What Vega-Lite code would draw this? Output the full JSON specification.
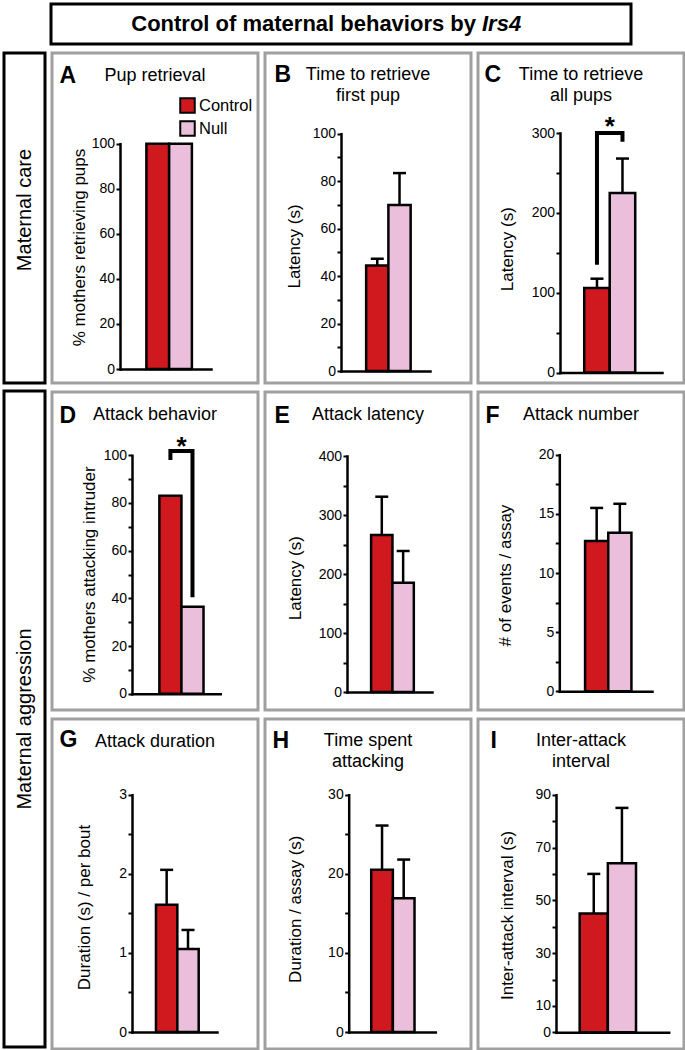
{
"$schema": "https://vega.github.io/schema/vega-lite/v6.json",
"padding": {"left": 2, "top": 2, "right": 0, "bottom": 0},
"background": "white",
"spacing": 5,
"resolve": {"scale": {"fill": "independent"}, "legend": {"fill": "independent"}},
"vconcat": [
 {"hconcat": [
   {"width": 41, "height": 40, "data": {"values": [{"t": ""}]}, "mark": {"type": "text"}, "encoding": {"text": {"field": "t"}}},
   {"width": 580, "height": 40, "view": {"stroke": "black", "strokeWidth": 3},
    "data": {"values": [{"a": "Control of maternal behaviors by", "b": "Irs4"}]},
    "layer": [
     {"mark": {"type": "text", "align": "right", "baseline": "middle", "dx": 135, "fontSize": 22, "fontWeight": "bold"}, "encoding": {"text": {"field": "a"}}},
     {"mark": {"type": "text", "align": "left", "baseline": "middle", "dx": 141, "fontSize": 22, "fontWeight": "bold", "fontStyle": "italic"}, "encoding": {"text": {"field": "b"}}}
    ]}
  ], "spacing": 6, "bounds": "flush"},
 {"hconcat": [
   {"vconcat": [
     {"width": 41, "height": 330, "view": {"stroke": "black", "strokeWidth": 3}, "data": {"values": [{"t": "Maternal care"}]}, "mark": {"type": "text", "angle": 270, "fontSize": 20, "baseline": "middle", "dx": 8}, "encoding": {"text": {"field": "t"}}},
     {"width": 41, "height": 656, "view": {"stroke": "black", "strokeWidth": 3}, "data": {"values": [{"t": "Maternal aggression"}]}, "mark": {"type": "text", "angle": 270, "fontSize": 20, "baseline": "middle"}, "encoding": {"text": {"field": "t"}}}
   ], "spacing": 8, "bounds": "flush"},
   {"vconcat": [
     {"hconcat": [
       {"width": 206, "height": 330, "view": {"stroke": "#a0a0a0", "strokeWidth": 3},
        "title": {"text": "Pup retrieval"},
        "data": {"values": [{"group": "Control", "mean": 100}, {"group": "Null", "mean": 100}]},
        "encoding": {
          "x": {"field": "group", "type": "nominal", "sort": null, "scale": {"domain": ["Control", "Null"], "range": [68, 159], "paddingInner": 0, "paddingOuter": 1.22, "align": 0.58}, "axis": {"offset": -14, "title": "A", "titleX": 7, "titleY": -294}},
          "y": {"field": "mean", "type": "quantitative", "scale": {"domain": [0, 100], "range": [316, 90.7], "nice": false, "zero": false}, "axis": {"offset": -68, "values": [0, 20, 40, 60, 80, 100], "title": "% mothers retrieving pups", "titleX": -41, "titleY": 194}}
        },
        "layer": [
          {"mark": {"type": "bar", "stroke": "black", "strokeWidth": 2.5}, "encoding": {"fill": {"field": "group", "type": "nominal", "scale": {"domain": ["Control", "Null"], "range": ["#d0191f", "#ebbfdb"]}, "legend": {"orient": "none", "legendX": 127, "legendY": 44, "title": null, "symbolType": "square", "symbolSize": 210, "symbolStrokeColor": "black", "symbolStrokeWidth": 2, "symbolOpacity": 1, "labelFontSize": 16.5, "labelColor": "black", "labelOffset": 3, "rowPadding": 0, "padding": 0}}}}
        ]},
       {"width": 206, "height": 330, "view": {"stroke": "#a0a0a0", "strokeWidth": 3},
        "title": {"text": ["Time to retrieve", "first pup"], "dy": 56},
        "data": {"values": [{"group": "Control", "mean": 44.5, "upper": 47.3}, {"group": "Null", "mean": 70, "upper": 83.4}]},
        "encoding": {
          "x": {"field": "group", "type": "nominal", "sort": null, "scale": {"domain": ["Control", "Null"], "range": [76, 165], "paddingInner": 0, "paddingOuter": 1.07, "align": 0.565}, "axis": {"offset": -12, "title": "B", "titleX": 9, "titleY": -297}},
          "y": {"field": "mean", "type": "quantitative", "scale": {"domain": [0, 100], "range": [318, 80.7], "nice": false, "zero": false}, "axis": {"offset": -76, "values": [0, 10, 20, 30, 40, 50, 60, 70, 80, 90, 100], "labelExpr": "datum.value % 20 === 0 ? datum.label : ''", "title": "Latency (s)", "titleX": -47, "titleY": 193}}
        },
        "layer": [
          {"mark": {"type": "bar", "stroke": "black", "strokeWidth": 2.5}, "encoding": {"fill": {"field": "group", "type": "nominal", "scale": {"domain": ["Control", "Null"], "range": ["#d0191f", "#ebbfdb"]}, "legend": null}}},
          {"mark": {"type": "rule", "color": "black", "strokeWidth": 2.5}, "encoding": {"y2": {"field": "upper"}}},
          {"mark": {"type": "tick", "color": "black", "thickness": 2.5, "size": 13, "opacity": 1}, "encoding": {"y": {"field": "upper", "type": "quantitative"}}}
        ]},
       {"width": 206, "height": 330, "view": {"stroke": "#a0a0a0", "strokeWidth": 3},
        "title": {"text": ["Time to retrieve", "all pups"], "dy": 56},
        "data": {"values": [{"group": "Control", "mean": 106, "upper": 117.5}, {"group": "Null", "mean": 225, "upper": 268}]},
        "encoding": {
          "x": {"field": "group", "type": "nominal", "sort": null, "scale": {"domain": ["Control", "Null"], "range": [82, 184], "paddingInner": 0, "paddingOuter": 1.37, "align": 0.475}, "axis": {"offset": -10.5, "title": "C", "titleX": 6, "titleY": -298.5}},
          "y": {"field": "mean", "type": "quantitative", "scale": {"domain": [0, 300], "range": [319.5, 80], "nice": false, "zero": false}, "axis": {"offset": -82, "values": [0, 50, 100, 150, 200, 250, 300], "labelExpr": "datum.value % 100 === 0 ? datum.label : ''", "title": "Latency (s)", "titleX": -53, "titleY": 195.7}}
        },
        "layer": [
          {"mark": {"type": "bar", "stroke": "black", "strokeWidth": 2.5}, "encoding": {"fill": {"field": "group", "type": "nominal", "scale": {"domain": ["Control", "Null"], "range": ["#d0191f", "#ebbfdb"]}, "legend": null}}},
          {"mark": {"type": "rule", "color": "black", "strokeWidth": 2.5}, "encoding": {"y2": {"field": "upper"}}},
          {"mark": {"type": "tick", "color": "black", "thickness": 2.5, "size": 13, "opacity": 1}, "encoding": {"y": {"field": "upper", "type": "quantitative"}}},
          {"data": {"values": [{"g": "Control", "v": 135, "i": 0}, {"g": "Control", "v": 300, "i": 1}, {"g": "Null", "v": 300, "i": 2}, {"g": "Null", "v": 289, "i": 3}]},
           "mark": {"type": "line", "color": "black", "strokeWidth": 4, "strokeJoin": "miter", "strokeCap": "butt"},
           "encoding": {"x": {"field": "g", "type": "nominal"}, "y": {"field": "v", "type": "quantitative"}, "order": {"field": "i", "type": "quantitative"}}},
          {"data": {"values": [{"g": "Null", "v": 297}]},
           "mark": {"type": "text", "text": "*", "fontSize": 26, "fontWeight": "bold", "baseline": "alphabetic", "align": "center"},
           "encoding": {"x": {"field": "g", "type": "nominal", "bandPosition": 0}, "y": {"field": "v", "type": "quantitative"}}}
        ]}
     ], "spacing": 7, "bounds": "flush", "resolve": {"scale": {"fill": "independent"}, "legend": {"fill": "independent"}}},
     {"hconcat": [
       {"width": 206, "height": 318, "view": {"stroke": "#a0a0a0", "strokeWidth": 3},
        "title": {"text": "Attack behavior"},
        "data": {"values": [{"group": "Control", "mean": 83}, {"group": "Null", "mean": 36.5}]},
        "encoding": {
          "x": {"field": "group", "type": "nominal", "sort": null, "scale": {"domain": ["Control", "Null"], "range": [80, 168.3], "paddingInner": 0, "paddingOuter": 1.12, "align": 0.62}, "axis": {"offset": -16.3, "title": "D", "titleX": 7, "titleY": -278.7}},
          "y": {"field": "mean", "type": "quantitative", "scale": {"domain": [0, 100], "range": [301.7, 63.3], "nice": false, "zero": false}, "axis": {"offset": -80, "values": [0, 10, 20, 30, 40, 50, 60, 70, 80, 90, 100], "labelExpr": "datum.value % 20 === 0 ? datum.label : ''", "title": "% mothers attacking intruder", "titleX": -43, "titleY": 182}}
        },
        "layer": [
          {"mark": {"type": "bar", "stroke": "black", "strokeWidth": 2.5}, "encoding": {"fill": {"field": "group", "type": "nominal", "scale": {"domain": ["Control", "Null"], "range": ["#d0191f", "#ebbfdb"]}, "legend": null}}},
          {"data": {"values": [{"g": "Control", "v": 98, "i": 0}, {"g": "Control", "v": 101.8, "i": 1}, {"g": "Null", "v": 101.8, "i": 2}, {"g": "Null", "v": 40.5, "i": 3}]},
           "mark": {"type": "line", "color": "black", "strokeWidth": 4, "strokeJoin": "miter", "strokeCap": "butt"},
           "encoding": {"x": {"field": "g", "type": "nominal"}, "y": {"field": "v", "type": "quantitative"}, "order": {"field": "i", "type": "quantitative"}}},
          {"data": {"values": [{"g": "Null", "v": 100}]},
           "mark": {"type": "text", "text": "*", "fontSize": 26, "fontWeight": "bold", "baseline": "alphabetic", "align": "center"},
           "encoding": {"x": {"field": "g", "type": "nominal", "bandPosition": 0}, "y": {"field": "v", "type": "quantitative"}}}
        ]},
       {"width": 206, "height": 318, "view": {"stroke": "#a0a0a0", "strokeWidth": 3},
        "title": {"text": "Attack latency"},
        "data": {"values": [{"group": "Control", "mean": 266, "upper": 331}, {"group": "Null", "mean": 185, "upper": 239}]},
        "encoding": {
          "x": {"field": "group", "type": "nominal", "sort": null, "scale": {"domain": ["Control", "Null"], "range": [82, 167], "paddingInner": 0, "paddingOuter": 0.99, "align": 0.57}, "axis": {"offset": -18, "title": "E", "titleX": 9, "titleY": -277}},
          "y": {"field": "mean", "type": "quantitative", "scale": {"domain": [0, 400], "range": [300, 64], "nice": false, "zero": false}, "axis": {"offset": -82, "values": [0, 50, 100, 150, 200, 250, 300, 350, 400], "labelExpr": "datum.value % 100 === 0 ? datum.label : ''", "title": "Latency (s)", "titleX": -52, "titleY": 185.7}}
        },
        "layer": [
          {"mark": {"type": "bar", "stroke": "black", "strokeWidth": 2.5}, "encoding": {"fill": {"field": "group", "type": "nominal", "scale": {"domain": ["Control", "Null"], "range": ["#d0191f", "#ebbfdb"]}, "legend": null}}},
          {"mark": {"type": "rule", "color": "black", "strokeWidth": 2.5}, "encoding": {"y2": {"field": "upper"}}},
          {"mark": {"type": "tick", "color": "black", "thickness": 2.5, "size": 13, "opacity": 1}, "encoding": {"y": {"field": "upper", "type": "quantitative"}}}
        ]},
       {"width": 206, "height": 318, "view": {"stroke": "#a0a0a0", "strokeWidth": 3},
        "title": {"text": "Attack number"},
        "data": {"values": [{"group": "Control", "mean": 12.7, "upper": 15.5}, {"group": "Null", "mean": 13.4, "upper": 15.85}]},
        "encoding": {
          "x": {"field": "group", "type": "nominal", "sort": null, "scale": {"domain": ["Control", "Null"], "range": [81.3, 174], "paddingInner": 0, "paddingOuter": 1.23, "align": 0.556}, "axis": {"offset": -18.7, "title": "F", "titleX": 7, "titleY": -276.3}},
          "y": {"field": "mean", "type": "quantitative", "scale": {"domain": [0, 20], "range": [299.3, 62.7], "nice": false, "zero": false}, "axis": {"offset": -81.3, "values": [0, 2.5, 5, 7.5, 10, 12.5, 15, 17.5, 20], "format": "~g", "labelExpr": "datum.value % 5 === 0 ? datum.label : ''", "title": "# of events / assay", "titleX": -54, "titleY": 183}}
        },
        "layer": [
          {"mark": {"type": "bar", "stroke": "black", "strokeWidth": 2.5}, "encoding": {"fill": {"field": "group", "type": "nominal", "scale": {"domain": ["Control", "Null"], "range": ["#d0191f", "#ebbfdb"]}, "legend": null}}},
          {"mark": {"type": "rule", "color": "black", "strokeWidth": 2.5}, "encoding": {"y2": {"field": "upper"}}},
          {"mark": {"type": "tick", "color": "black", "thickness": 2.5, "size": 13, "opacity": 1}, "encoding": {"y": {"field": "upper", "type": "quantitative"}}}
        ]}
     ], "spacing": 7, "bounds": "flush", "resolve": {"scale": {"fill": "independent"}, "legend": {"fill": "independent"}}},
     {"hconcat": [
       {"width": 206, "height": 330, "view": {"stroke": "#a0a0a0", "strokeWidth": 3},
        "title": {"text": "Attack duration"},
        "data": {"values": [{"group": "Control", "mean": 1.61, "upper": 2.05}, {"group": "Null", "mean": 1.05, "upper": 1.29}]},
        "encoding": {
          "x": {"field": "group", "type": "nominal", "sort": null, "scale": {"domain": ["Control", "Null"], "range": [80, 165], "paddingInner": 0, "paddingOuter": 0.99, "align": 0.567}, "axis": {"offset": -17, "title": "G", "titleX": 7, "titleY": -293}},
          "y": {"field": "mean", "type": "quantitative", "scale": {"domain": [0, 3], "range": [313, 75.7], "nice": false, "zero": false}, "axis": {"offset": -80, "values": [0, 0.5, 1, 1.5, 2, 2.5, 3], "format": "~g", "labelExpr": "datum.value % 1 === 0 ? datum.label : ''", "title": "Duration (s) / per bout", "titleX": -48, "titleY": 188}}
        },
        "layer": [
          {"mark": {"type": "bar", "stroke": "black", "strokeWidth": 2.5}, "encoding": {"fill": {"field": "group", "type": "nominal", "scale": {"domain": ["Control", "Null"], "range": ["#d0191f", "#ebbfdb"]}, "legend": null}}},
          {"mark": {"type": "rule", "color": "black", "strokeWidth": 2.5}, "encoding": {"y2": {"field": "upper"}}},
          {"mark": {"type": "tick", "color": "black", "thickness": 2.5, "size": 13, "opacity": 1}, "encoding": {"y": {"field": "upper", "type": "quantitative"}}}
        ]},
       {"width": 206, "height": 330, "view": {"stroke": "#a0a0a0", "strokeWidth": 3},
        "title": {"text": ["Time spent", "attacking"], "dy": 56},
        "data": {"values": [{"group": "Control", "mean": 20.5, "upper": 26.1}, {"group": "Null", "mean": 16.9, "upper": 21.8}]},
        "encoding": {
          "x": {"field": "group", "type": "nominal", "sort": null, "scale": {"domain": ["Control", "Null"], "range": [83.7, 170.3], "paddingInner": 0, "paddingOuter": 1.0, "align": 0.52}, "axis": {"offset": -17, "title": "H", "titleX": 7, "titleY": -292}},
          "y": {"field": "mean", "type": "quantitative", "scale": {"domain": [0, 30], "range": [313, 75.7], "nice": false, "zero": false}, "axis": {"offset": -83.7, "values": [0, 5, 10, 15, 20, 25, 30], "labelExpr": "datum.value % 10 === 0 ? datum.label : ''", "title": "Duration / assay (s)", "titleX": -53.4, "titleY": 189.7}}
        },
        "layer": [
          {"mark": {"type": "bar", "stroke": "black", "strokeWidth": 2.5}, "encoding": {"fill": {"field": "group", "type": "nominal", "scale": {"domain": ["Control", "Null"], "range": ["#d0191f", "#ebbfdb"]}, "legend": null}}},
          {"mark": {"type": "rule", "color": "black", "strokeWidth": 2.5}, "encoding": {"y2": {"field": "upper"}}},
          {"mark": {"type": "tick", "color": "black", "thickness": 2.5, "size": 13, "opacity": 1}, "encoding": {"y": {"field": "upper", "type": "quantitative"}}}
        ]},
       {"width": 206, "height": 330, "view": {"stroke": "#a0a0a0", "strokeWidth": 3},
        "title": {"text": ["Inter-attack", "interval"], "dy": 56},
        "data": {"values": [{"group": "Control", "mean": 45, "upper": 60}, {"group": "Null", "mean": 64, "upper": 85}]},
        "encoding": {
          "x": {"field": "group", "type": "nominal", "sort": null, "scale": {"domain": ["Control", "Null"], "range": [78, 190.7], "paddingInner": 0, "paddingOuter": 1.6, "align": 0.42}, "axis": {"offset": -16.7, "title": "I", "titleX": 12, "titleY": -291.8}},
          "y": {"field": "mean", "type": "quantitative", "scale": {"domain": [0, 90], "range": [313.3, 75.7], "nice": false, "zero": false}, "axis": {"offset": -78, "values": [0, 10, 20, 30, 40, 50, 60, 70, 80, 90], "labelExpr": "datum.value === 0 || datum.value % 20 === 10 ? datum.label : ''", "title": "Inter-attack interval (s)", "titleX": -49, "titleY": 196}}
        },
        "layer": [
          {"mark": {"type": "bar", "stroke": "black", "strokeWidth": 2.5}, "encoding": {"fill": {"field": "group", "type": "nominal", "scale": {"domain": ["Control", "Null"], "range": ["#d0191f", "#ebbfdb"]}, "legend": null}}},
          {"mark": {"type": "rule", "color": "black", "strokeWidth": 2.5}, "encoding": {"y2": {"field": "upper"}}},
          {"mark": {"type": "tick", "color": "black", "thickness": 2.5, "size": 13, "opacity": 1}, "encoding": {"y": {"field": "upper", "type": "quantitative"}}}
        ]}
     ], "spacing": 7, "bounds": "flush", "resolve": {"scale": {"fill": "independent"}, "legend": {"fill": "independent"}}}
   ], "spacing": 5, "resolve": {"scale": {"fill": "independent"}, "legend": {"fill": "independent"}}}
  ], "spacing": 3, "resolve": {"scale": {"fill": "independent"}, "legend": {"fill": "independent"}}}
],
"config": {
  "font": "Liberation Sans",
  "view": {"stroke": null},
  "axis": {"grid": false, "domainColor": "black", "domainWidth": 2.5, "domainCap": "square", "tickColor": "black", "tickWidth": 2, "tickSize": 4, "labelFontSize": 14, "labelColor": "black", "labelPadding": 1.5, "labelOverlap": false, "labelFlush": false, "titleFontSize": 17, "titleFontWeight": "normal", "titleColor": "black", "titleAlign": "center", "titleBaseline": "middle"},
  "axisX": {"labels": false, "ticks": false, "titleFontSize": 23, "titleFontWeight": "bold", "titleAlign": "left", "titleBaseline": "middle", "titleAngle": 0},
  "axisY": {"titleAngle": 270},
  "title": {"fontSize": 18, "fontWeight": "normal", "anchor": "middle", "frame": "group", "baseline": "top", "offset": 0, "lineHeight": 21, "color": "black", "dy": 36},
  "text": {"color": "black"}
}
}
